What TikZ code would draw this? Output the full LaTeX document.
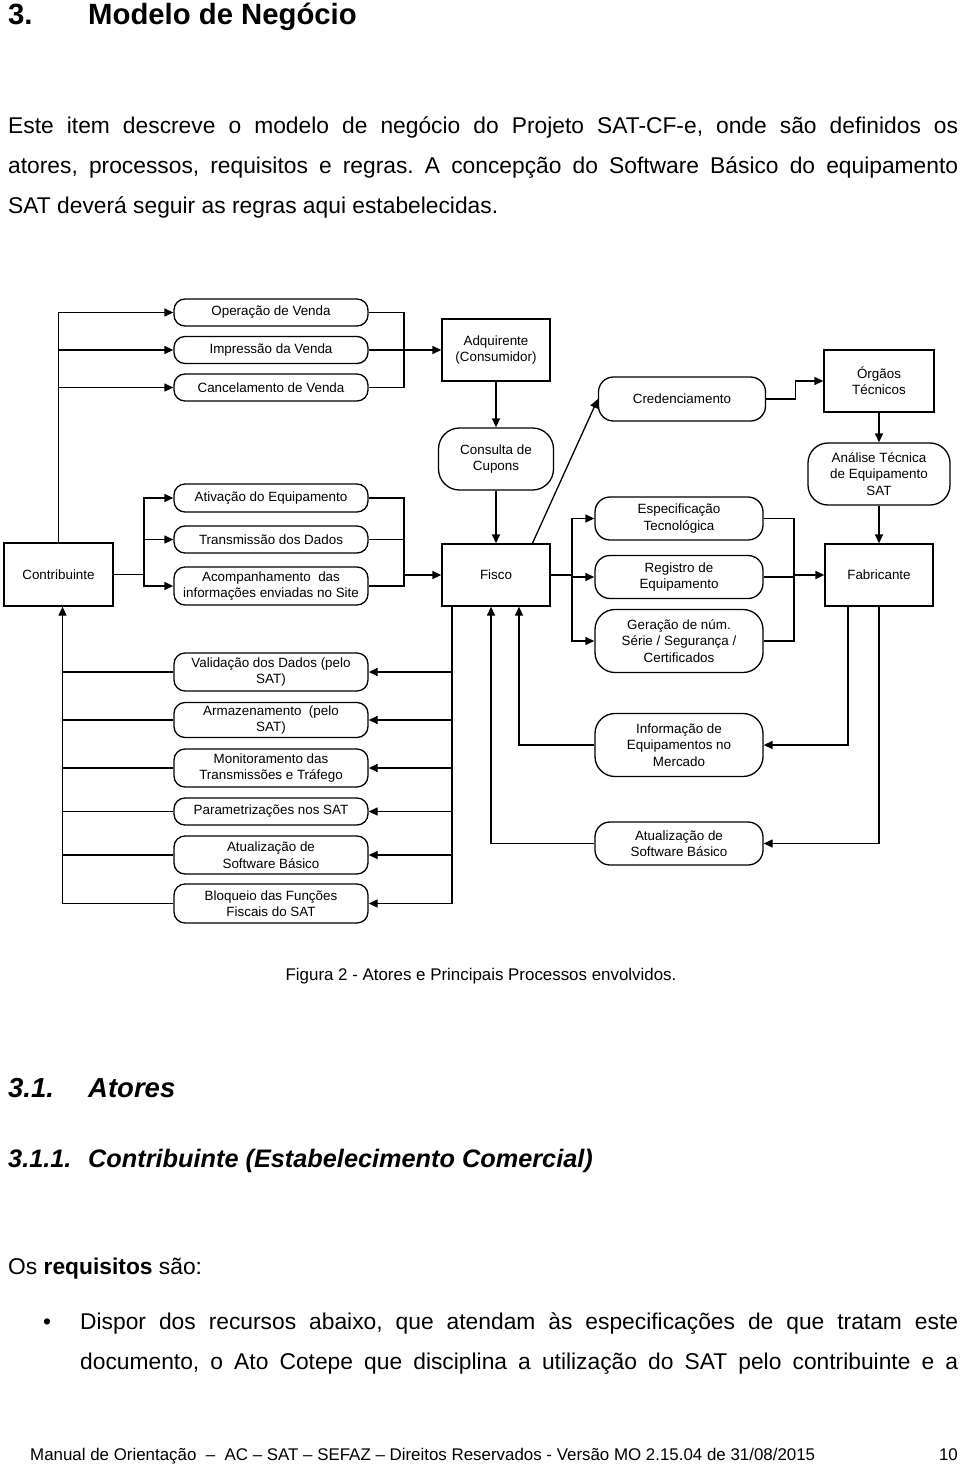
\documentclass[tikz,border=0pt]{standalone}
\usepackage{fontspec}
\setmainfont{Liberation Sans}
\usetikzlibrary{arrows.meta}
\frenchspacing

\newcommand{\diagfont}{\fontsize{13.4}{16.5}\selectfont}
\newcommand{\bodyfont}{\fontsize{22.8}{27}\selectfont}
\newcommand{\titlefont}{\fontsize{29.3}{34}\selectfont\bfseries}
\newcommand{\secfont}{\fontsize{27.5}{31}\selectfont\bfseries\itshape}
\newcommand{\subsecfont}{\fontsize{25.3}{30}\selectfont\bfseries\itshape}
\newcommand{\smallfont}{\fontsize{16.9}{20}\selectfont}

\tikzset{
    actor/.style={draw, line width=1.3pt, minimum width=108pt, minimum height=62pt, font=\diagfont, align=center, inner sep=2pt},
    proc/.style={draw, line width=1.3pt, rounded corners=#1, font=\diagfont, align=center, inner sep=2pt},
    proc/.default=11pt,
    lbox/.style={proc, minimum width=194pt},
    rbox/.style={proc=15pt, minimum width=168pt},
    arr/.style={line width=1.3pt, -{Triangle[length=9pt,width=8pt]}},
    lin/.style={line width=1.3pt},
    txt/.style={anchor=base west, inner sep=0pt, font=\bodyfont}
}

\begin{document}
\begin{tikzpicture}[x=1pt,y=-1pt]
\useasboundingbox (0,0) rectangle (960,1466);

% texto da pagina
\node[txt, font=\titlefont] (secnum) at (8,25) {3.};
\node[txt, font=\titlefont] (sectit) at (88,25) {Modelo de Negócio};
\node[txt] (par1) at (8,134) {\makebox[950pt][s]{Este item descreve o modelo de negócio do Projeto SAT-CF-e, onde são definidos os}};
\node[txt] (par2) at (8,174) {\makebox[950pt][s]{atores, processos, requisitos e regras. A concepção do Software Básico do equipamento}};
\node[txt] (par3) at (8,214) {SAT deverá seguir as regras aqui estabelecidas.};

% atores
\node[actor, minimum width=109pt, minimum height=63pt] (contrib) at (58.5,574.5) {Contribuinte};
\node[actor] (adq) at (496,350) {Adquirente\\(Consumidor)};
\node[actor] (fisco) at (496,575) {Fisco};
\node[actor, minimum width=110pt] (orgaos) at (879,381) {Órgãos\\Técnicos};
\node[actor] (fabric) at (879,575) {Fabricante};

% processos do contribuinte
\node[lbox, minimum height=27pt] (opv) at (271,312.5) {Operação de Venda};
\node[lbox, minimum height=27pt] (imp) at (271,350) {Impressão da Venda};
\node[lbox, minimum height=27pt] (canc) at (271,387.5) {Cancelamento de Venda};
\node[lbox, minimum height=28pt] (ativ) at (271,498) {Ativação do Equipamento};
\node[lbox, minimum height=27pt] (trans) at (271,539.5) {Transmissão dos Dados};
\node[lbox, minimum height=38pt] (acomp) at (271,586) {Acompanhamento\ \ das\\informações enviadas no Site};
\node[lbox, minimum height=38pt] (valid) at (271,672) {Validação dos Dados (pelo\\SAT)};
\node[lbox, minimum height=35pt] (armaz) at (271,720) {Armazenamento\ \ (pelo\\SAT)};
\node[lbox, minimum height=38pt] (monit) at (271,768) {Monitoramento das\\Transmissões e Tráfego};
\node[lbox, minimum height=27pt] (param) at (271,811.5) {Parametrizações nos SAT};
\node[lbox, minimum height=38pt] (atuaL) at (271,855) {Atualização de\\Software Básico};
\node[lbox, minimum height=39pt] (bloq) at (271,903.5) {Bloqueio das Funções\\Fiscais do SAT};

% processos do fisco e do fabricante
\node[proc=21pt, minimum width=115pt, minimum height=62pt] (consulta) at (496,459) {Consulta de\\Cupons};
\node[rbox, minimum width=167pt, minimum height=44pt] (cred) at (682,399) {Credenciamento};
\node[proc=20pt, minimum width=142pt, minimum height=62pt] (analise) at (879,474) {Análise Técnica\\de Equipamento\\SAT};
\node[rbox, minimum height=43pt] (esp) at (679,518.5) {Especificação\\Tecnológica};
\node[rbox, minimum height=43pt] (reg) at (679,577) {Registro de\\Equipamento};
\node[rbox, proc=20pt, minimum height=63pt] (ger) at (679,641) {Geração de núm.\\Série / Segurança /\\Certificados};
\node[rbox, proc=20pt, minimum height=63pt] (info) at (679,745) {Informação de\\Equipamentos no\\Mercado};
\node[rbox, minimum height=43pt] (atuaR) at (679,843.5) {Atualização de\\Software Básico};

% contribuinte -> vendas -> adquirente
\foreach \n in {opv,imp,canc}
    \draw[arr] (contrib.north) |- (\n.west);
\coordinate (va) at (404,350);
\draw[lin] (opv.east) -| (va);
\draw[lin] (canc.east) -| (va);
\draw[arr] (imp.east) -- (adq.west);

% contribuinte -> ativacao/transmissao -> fisco
\coordinate (cb) at (144,574.5);
\draw[lin] (contrib.east) -- (cb);
\foreach \n in {ativ,trans,acomp}
    \draw[arr] (cb) |- (\n.west);
\coordinate (fb) at (404,575);
\draw[lin] (ativ.east) -| (fb);
\draw[lin] (acomp.east) -| (fb);
\draw[lin] (trans.east) -- (trans.east -| fb);
\draw[arr] (fb) -- (fisco.west);

% adquirente -> consulta -> fisco
\draw[arr] (adq.south) -- (consulta.north);
\draw[arr] (consulta.south) -- (fisco.north);

% fisco -> credenciamento -> orgaos -> analise -> fabricante
\draw[arr] (fisco.41) -- (cred.west);
\draw[arr] (cred.east) -- ++(29,0) |- (orgaos.west);
\draw[arr] (orgaos.south) -- (analise.north);
\draw[arr] (analise.south) -- (fabric.north);

% fisco -> especificacao/registro/geracao -> fabricante
\coordinate (fr) at (572,575);
\draw[lin] (fisco.east) -- (fr);
\foreach \n in {esp,reg,ger}
    \draw[arr] (fr) |- (\n.west);
\coordinate (fab) at (794,575);
\draw[lin] (esp.east) -| (fab);
\draw[lin] (ger.east) -| (fab);
\draw[lin] (reg.east) -- (reg.east -| fab);
\draw[arr] (fab) -- (fabric.west);

% fabricante -> informacao/atualizacao -> fisco
\draw[arr] ([xshift=-31pt]fabric.south) |- (info.east);
\draw[arr] (fabric.south) |- (atuaR.east);
\draw[arr] (info.west) -| ([xshift=23pt]fisco.south);
\draw[arr] (atuaR.west) -| ([xshift=-5pt]fisco.south);

% fisco -> processos do SAT -> contribuinte
\coordinate (fl) at ([xshift=-44pt]fisco.south);
\coordinate (cl) at ([xshift=4pt]contrib.south);
\foreach \n in {valid,armaz,monit,param,atuaL,bloq}
    \draw[arr] (fl) |- (\n.east);
\foreach \n in {valid,armaz,monit,param,atuaL}
    \draw[lin] (\n.west) -| (cl);
\draw[arr] (bloq.west) -| (cl);

% legenda e secoes
\node[anchor=base, inner sep=0pt, font=\smallfont] (legenda) at (481,980) {Figura 2 - Atores e Principais Processos envolvidos.};
\node[txt, font=\secfont] (subnum) at (8,1097) {3.1.};
\node[txt, font=\secfont] (subtit) at (88,1097) {Atores};
\node[txt, font=\subsecfont] (subsubnum) at (8,1167) {3.1.1.};
\node[txt, font=\subsecfont] (subsubtit) at (88,1167) {Contribuinte (Estabelecimento Comercial)};
\node[txt] (req) at (8,1274) {Os \textbf{requisitos} são:};
\node[txt] (bullet) at (43,1329) {•};
\node[txt] (item1) at (80,1329) {\makebox[878pt][s]{Dispor dos recursos abaixo, que atendam às especificações de que tratam este}};
\node[txt] (item2) at (80,1369) {\makebox[878pt][s]{documento, o Ato Cotepe que disciplina a utilização do SAT pelo contribuinte e a}};

% rodape
\node[txt, font=\smallfont] (rodape) at (30,1460) {Manual de Orientação \ – \ AC – SAT – SEFAZ – Direitos Reservados - Versão MO 2.15.04 de 31/08/2015};
\node[anchor=base east, inner sep=0pt, font=\smallfont] (pagina) at (958,1460) {10};
\end{tikzpicture}
\end{document}
